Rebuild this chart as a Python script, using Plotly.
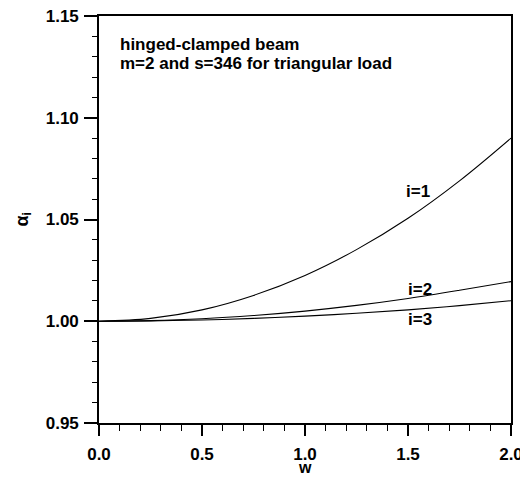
import plotly.graph_objects as go

w = [0.0, 0.25, 0.5, 0.75, 1.0, 1.25, 1.5, 1.75, 2.0]
alpha_i1 = [1.0, 1.0014, 1.0056, 1.0127, 1.0225, 1.0352, 1.0506, 1.0690, 1.0900]
alpha_i2 = [1.0, 1.0003, 1.0012, 1.0028, 1.0050, 1.0078, 1.0112, 1.0152, 1.0195]
alpha_i3 = [1.0, 1.0002, 1.0006, 1.0014, 1.0025, 1.0039, 1.0056, 1.0077, 1.0101]
series_labels = ["i=1", "i=2", "i=3"]
label_pos = [(1.55, 1.064), (1.56, 1.0158), (1.56, 1.0010)]

x_ticks = [0.0, 0.5, 1.0, 1.5, 2.0]
x_ticktext = ["0.0", "0.5", "1.0", "1.5", "2.0"]
y_ticks = [0.95, 1.00, 1.05, 1.10, 1.15]
y_ticktext = ["0.95", "1.00", "1.05", "1.10", "1.15"]

FONT = "Liberation Sans, Arial, sans-serif"
TXT = dict(family=FONT, size=17, color="black", weight="bold")

fig = go.Figure()
for ys in (alpha_i1, alpha_i2, alpha_i3):
    fig.add_trace(go.Scatter(x=w, y=ys, mode="lines", line=dict(color="black", width=1.1, shape="spline"),
                             showlegend=False, hoverinfo="skip"))

for lab, (lx, ly) in zip(series_labels, label_pos):
    fig.add_annotation(x=lx, y=ly, text=lab, showarrow=False, font=TXT)

fig.add_annotation(x=0.09, y=1.1362, xanchor="left", yanchor="middle", text="hinged-clamped beam",
                   showarrow=False, font=TXT)
fig.add_annotation(x=0.09, y=1.1269, xanchor="left", yanchor="middle", text="m=2 and s=346 for triangular load",
                   showarrow=False, font=TXT)

# axis titles
fig.add_annotation(x=0.5, y=0, xref="paper", yref="paper", yanchor="top", yshift=-35, borderpad=0,
                   text="w", showarrow=False, font=dict(family=FONT, size=16, color="black", weight="bold"))
fig.add_annotation(x=0, y=0.5, xref="paper", yref="paper", xanchor="center", xshift=-76, textangle=-90,
                   text="α<sub>i</sub>", showarrow=False, font=dict(family=FONT, size=18, color="black"))

fig.update_layout(
    width=520, height=470,
    margin=dict(l=91, r=17, t=8, b=55),
    paper_bgcolor="white", plot_bgcolor="white",
    font=TXT,
)
fig.update_xaxes(range=[0, 2.0], tickvals=x_ticks, ticktext=x_ticktext, showgrid=False, zeroline=False,
                 showline=True, linecolor="black", linewidth=1.6, mirror=True, automargin=False,
                 ticks="outside", ticklen=11, tickwidth=1.5, tickcolor="black", ticklabelstandoff=4,
                 ticklabeloverflow="allow",
                 minor=dict(dtick=0.1, ticks="outside", ticklen=6, tickwidth=1, tickcolor="black", showgrid=False),
                 tickfont=TXT)
fig.update_yaxes(range=[0.95, 1.15], tickvals=y_ticks, ticktext=y_ticktext, showgrid=False, zeroline=False,
                 showline=True, linecolor="black", linewidth=1.6, mirror=True, automargin=False,
                 ticks="outside", ticklen=13, tickwidth=1.5, tickcolor="black", ticklabelstandoff=2,
                 ticklabeloverflow="allow",
                 minor=dict(dtick=0.01, ticks="outside", ticklen=5, tickwidth=1, tickcolor="black", showgrid=False),
                 tickfont=TXT)

fig.write_html("out.html")
